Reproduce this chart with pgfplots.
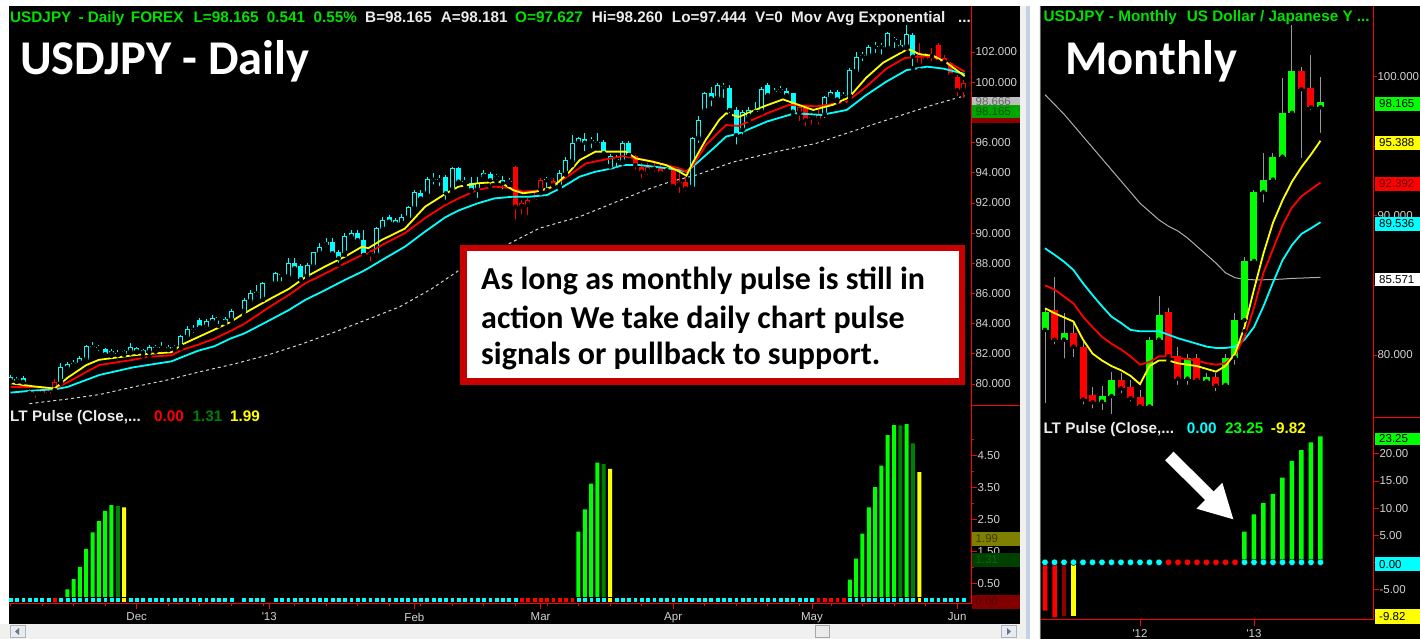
\documentclass[border=0pt]{standalone}
\usepackage{fontspec}
\setmainfont{Liberation Sans}
\newfontfamily\calfont{Carlito}
\usepackage{pgfplots}
\usepackage{pgfplotstable}
\pgfplotsset{compat=1.18}

\definecolor{cy}{RGB}{0,255,255}
\definecolor{rd}{RGB}{255,0,0}
\definecolor{yl}{RGB}{255,255,0}
\definecolor{gr}{RGB}{0,255,0}
\definecolor{dgr}{RGB}{0,128,0}
\definecolor{drd}{RGB}{140,0,0}
\definecolor{hdg}{RGB}{0,225,0}
\definecolor{hdw}{RGB}{235,235,235}
\definecolor{labc}{RGB}{210,210,210}
\definecolor{boxred}{RGB}{200,0,0}
\definecolor{dashc}{RGB}{215,215,215}
\definecolor{lgray}{RGB}{240,240,240}
\definecolor{wickg}{RGB}{150,150,150}
\definecolor{emag}{RGB}{175,175,175}
\definecolor{tgbg}{RGB}{0,165,0}
\definecolor{tgtx}{RGB}{0,85,0}
\definecolor{olbg}{RGB}{128,128,0}
\definecolor{oltx}{RGB}{60,60,0}
\definecolor{dgbg}{RGB}{0,64,0}
\definecolor{dgtx}{RGB}{0,110,0}
\definecolor{drbg}{RGB}{128,0,0}
\definecolor{drtx}{RGB}{90,0,0}
\definecolor{grbg}{RGB}{190,190,190}
\definecolor{grtx}{RGB}{100,100,100}
\definecolor{sbblue}{RGB}{195,210,228}
\definecolor{btn}{RGB}{228,236,245}

\pgfplotstableread{
i o h l c k d
0 80.44 80.60 80.15 80.26 0 0
1 80.35 80.49 80.13 80.22 0 0
2 80.38 80.53 80.09 80.15 0 0
3 79.55 79.69 79.20 79.42 1 0
4 79.47 79.60 78.94 79.38 1 0
5 79.53 79.69 79.20 79.38 1 0
6 79.45 79.60 79.12 79.36 1 0
7 79.53 80.30 79.38 80.15 1 1
8 80.15 81.37 80.04 81.10 0 0
9 81.04 81.48 80.93 81.30 0 0
10 81.30 81.59 81.04 81.37 0 0
11 81.37 81.86 81.26 81.70 0 0
12 81.59 82.58 81.55 82.52 0 0
13 82.45 82.80 82.25 82.50 0 0
14 82.38 82.58 82.03 82.40 0 0
15 82.30 82.36 81.92 81.97 0 0
16 81.97 82.30 81.86 82.19 0 0
17 82.08 82.25 81.90 81.97 0 0
18 82.00 82.25 81.92 82.16 0 2
19 82.10 82.70 82.03 82.43 0 0
20 82.36 82.47 82.08 82.19 0 0
21 82.03 82.34 81.81 82.25 0 0
22 82.08 82.58 81.81 82.43 0 0
23 82.36 82.58 82.14 82.38 0 0
24 82.40 82.78 82.25 82.42 0 0
25 82.47 82.58 82.25 82.32 0 0
26 82.40 82.58 82.25 82.42 0 0
27 82.47 83.25 82.36 83.18 0 0
28 83.09 83.84 83.03 83.62 0 0
29 83.58 83.91 83.25 83.60 0 0
30 84.24 84.35 83.69 83.76 0 0
31 83.76 84.29 83.69 84.18 0 0
32 84.09 84.57 84.02 84.40 0 0
33 84.35 84.46 83.84 84.37 0 0
34 84.31 84.46 84.02 84.13 0 0
35 84.24 84.95 84.20 84.86 0 0
37 84.80 85.68 84.57 85.57 0 0
38 85.46 86.23 85.35 86.05 0 0
39 86.00 86.56 85.68 86.02 0 0
40 85.60 86.78 85.57 86.67 0 0
42 86.67 87.44 86.45 87.33 0 0
43 87.22 87.38 86.67 87.24 0 0
44 87.11 88.33 87.11 88.04 0 0
45 88.04 88.33 87.44 87.67 0 0
46 87.82 87.95 86.89 86.94 0 0
47 87.11 88.00 87.00 87.89 0 0
48 87.78 88.77 87.67 88.73 0 0
49 88.66 89.32 88.55 89.10 0 0
50 89.21 89.65 89.10 89.43 0 0
51 89.39 89.65 88.55 88.66 0 0
52 88.77 88.88 87.89 88.33 0 0
53 88.66 89.98 88.55 89.83 0 0
54 89.72 90.20 89.54 90.03 0 0
55 89.98 90.20 89.32 89.54 0 0
56 89.54 90.20 88.55 88.55 0 0
57 88.66 88.88 88.00 88.60 1 0
58 88.55 90.38 88.50 90.32 0 0
59 90.25 91.09 90.16 90.87 0 0
60 91.04 91.20 90.54 90.76 0 0
61 90.87 90.98 90.38 90.65 0 0
62 90.65 91.27 90.54 91.09 0 0
63 90.98 91.80 90.87 91.71 0 0
64 91.64 92.86 91.53 92.75 0 0
65 92.64 92.86 92.08 92.30 0 0
66 92.59 93.74 92.52 93.56 0 0
67 93.54 94.00 93.08 93.58 0 0
68 93.54 93.85 92.97 93.50 0 0
69 93.70 93.85 92.08 92.64 0 0
70 92.86 94.40 92.75 94.29 0 0
71 94.29 94.40 93.30 93.41 0 0
72 93.38 93.74 93.19 93.42 0 0
73 93.30 93.74 92.75 92.86 0 0
74 92.86 93.74 92.19 93.34 0 0
75 93.74 94.18 93.63 93.96 0 0
76 93.92 94.07 93.08 93.50 0 0
77 93.72 93.92 93.41 93.76 0 0
78 93.52 93.78 92.75 93.30 0 0
79 93.40 93.63 93.19 93.43 0 0
80 94.36 94.45 90.76 91.75 1 0
81 91.75 92.19 91.09 91.97 1 1
82 91.86 92.30 91.04 92.19 1 1
83 92.25 92.86 91.93 92.19 1 1
84 92.86 93.63 92.64 93.52 1 1
85 93.50 93.74 92.86 93.54 0 1
86 93.47 93.63 93.12 93.19 1 1
87 93.08 94.18 92.97 94.00 0 1
88 93.96 95.07 93.85 94.84 0 1
89 94.73 96.50 94.51 95.95 0 1
90 95.95 96.39 95.84 96.28 0 0
91 96.24 96.66 95.29 95.99 0 0
92 96.08 96.39 95.50 96.12 0 0
93 95.94 96.66 95.62 95.97 0 0
94 96.06 96.17 95.18 95.29 0 0
95 94.40 95.24 94.07 95.10 0 2
96 94.82 95.18 94.18 94.86 0 0
97 94.73 96.10 94.62 95.99 0 0
98 95.99 96.10 94.84 95.18 0 0
99 95.11 95.18 94.07 94.51 1 0
100 94.36 94.62 93.52 94.07 1 0
101 94.07 94.62 93.74 94.40 1 0
102 94.27 94.62 93.92 94.31 1 0
103 94.36 94.51 93.85 94.00 1 0
104 94.16 94.36 93.85 94.20 1 0
105 94.18 94.29 93.08 93.12 1 0
106 93.19 93.96 92.52 93.41 1 0
107 93.41 93.74 92.64 92.97 1 0
108 93.03 96.35 92.97 96.28 0 0
109 96.28 97.76 95.84 97.49 0 0
110 98.11 99.37 98.05 99.31 0 0
111 99.31 99.70 98.27 98.93 0 0
112 98.93 99.92 98.86 99.81 0 0
113 99.68 99.92 98.82 99.72 0 0
114 99.59 99.81 97.83 98.16 0 0
115 98.16 98.38 95.73 96.50 0 0
116 96.83 98.16 96.39 98.05 0 0
117 97.71 98.33 97.49 98.16 0 0
118 98.03 98.71 97.83 98.07 0 0
119 98.05 99.70 97.94 99.53 0 0
120 99.81 99.92 98.93 99.15 0 0
121 99.35 99.59 99.15 99.39 0 0
122 99.46 99.75 99.15 99.50 0 0
123 99.44 99.59 99.04 99.15 0 0
124 99.26 99.31 97.83 98.05 0 0
125 97.94 98.42 97.27 98.33 1 0
126 98.27 98.42 96.94 97.49 1 0
127 97.65 97.94 97.05 97.69 1 0
128 97.49 98.16 97.05 97.83 1 1
129 97.83 99.09 97.49 99.00 0 1
130 99.04 99.48 98.93 99.37 0 1
131 99.37 99.48 98.71 98.86 0 1
132 99.07 99.37 98.60 99.11 0 1
133 99.04 100.92 98.82 100.81 0 0
134 100.70 102.02 100.59 101.69 0 0
135 101.72 102.02 101.25 101.76 0 0
136 101.74 102.47 101.58 102.35 0 0
137 102.33 102.69 101.80 102.37 0 0
138 102.33 102.62 101.69 102.37 0 0
139 102.24 103.35 102.02 103.24 0 0
140 102.78 103.02 102.13 102.82 0 0
141 102.24 102.80 102.13 102.47 0 0
142 102.35 103.79 102.24 103.19 0 0
143 103.13 103.24 100.92 101.69 0 0
144 101.14 102.58 100.81 101.91 1 2
145 101.60 101.91 101.25 101.50 1 0
146 101.72 102.24 101.25 101.76 1 0
147 102.47 102.58 101.14 101.36 1 0
148 101.58 101.80 101.14 101.36 1 0
149 101.25 101.36 100.37 100.48 1 0
150 100.37 100.48 98.93 99.48 1 0
151 99.48 100.15 98.82 99.92 1 0
}\dcand

\pgfplotstableread{
i o h l c k d
0 81.8 83.4 76.4 83.1 0 0
1 83.2 85.6 80.6 81.1 1 0
2 81.1 83.0 79.6 81.6 0 0
3 81.6 82.3 79.7 80.6 1 0
4 80.6 80.9 76.3 76.8 1 0
5 77.1 77.7 76.0 76.6 1 0
6 76.65 77.8 75.9 77.05 0 0
7 77.05 78.8 75.6 78.2 0 0
8 78.2 78.7 77.1 77.6 1 0
9 77.7 78.2 76.5 76.9 1 0
10 77.0 77.5 76.2 76.3 1 0
11 76.3 81.3 76.2 81.1 0 0
12 81.1 84.2 80.8 82.9 0 0
13 83.1 83.4 79.6 79.9 1 1
14 79.9 80.6 77.7 78.3 1 1
15 78.3 80.1 77.7 79.8 0 1
16 79.8 80.1 77.9 78.2 1 1
17 78.1 78.7 77.95 78.4 0 1
18 78.4 78.7 77.25 77.8 1 1
19 77.85 80.1 77.7 79.8 0 1
20 79.8 83.0 79.15 82.5 0 1
21 82.5 87.05 81.7 86.75 0 0
22 86.75 91.85 86.6 91.7 0 0
23 91.7 94.5 90.8 92.6 0 0
24 92.6 94.5 92.45 94.25 0 0
25 94.25 99.9 94.15 97.4 0 0
26 97.4 103.7 97.35 100.4 0 0
27 100.4 100.7 94.0 99.1 1 0
28 99.2 101.55 97.45 97.8 1 0
29 97.8 99.95 95.8 98.165 0 0
}\mcand

% candle helpers: #1 table, #2 class value, #3 colour, #4 width
\newcommand{\wick}[4]{%
\addplot[only marks, mark=none, error bars/.cd, y dir=plus, y explicit, error mark=none,
  error bar style={line width=#4, draw=#3}]
  table[x=i, y expr={\thisrow{k}==#2 ? \thisrow{l} : nan}, y error expr={\thisrow{h}-\thisrow{l}}] {#1};}
\newcommand{\cbody}[5]{%
\addplot[only marks, mark=none, error bars/.cd, y dir=plus, y explicit, error mark=none,
  error bar style={line width=#4, draw=#3}]
  table[x=i, y expr={\thisrow{k}==#2 ? min(\thisrow{o},\thisrow{c}) : nan}, y error expr={max(abs(\thisrow{c}-\thisrow{o}),#5)}] {#1};}
\newcommand{\chollow}[3]{%
\addplot[only marks, mark=none, error bars/.cd, y dir=plus, y explicit, error mark=none,
  error bar style={line width=#3, draw=black}]
  table[x=i, y expr={(\thisrow{k}==#2 && \thisrow{c}-\thisrow{o}>0.15) ? \thisrow{o}+0.07 : nan}, y error expr={\thisrow{c}-\thisrow{o}-0.14}] {#1};}

\newcommand{\tagb}[7]{\fill[#5] (#1,639-#3) rectangle (#2,639-#4);
  \node[anchor=west, inner sep=0pt, text=#6, font=\fontsize{11.5}{12}\selectfont] at ({#1+4},{639-(#3+#4)/2}) {#7};}

\pgfplotsset{
  base/.style={scale only axis, anchor=south west, axis line style={draw=none},
    tick align=outside, major tick length=4pt, minor tick length=4pt,
    tick style={red, line width=0.8pt},
    tick label style={font=\fontsize{11.5}{12}\selectfont, text=labc},
    yticklabel style={xshift=-3pt},
    clip=true, clip bounding box=upper bound,
    xtick pos=left, ytick pos=right, xticklabel pos=left, yticklabel pos=right}
}

\tikzset{hd/.style={anchor=base west, inner sep=0pt, font=\bfseries\fontsize{15.3}{16}\selectfont}}

\begin{document}
\begin{tikzpicture}
\useasboundingbox (0pt,0pt) rectangle (1420pt,639pt);
\fill[black] (0pt,0pt) rectangle (1420pt,639pt);

% ===================== DAILY PRICE =====================
\begin{axis}[base, at={(9pt,233pt)}, width=962pt, height=400pt,
  xmin=-0.238, xmax=152.2, ymin=78.542, ymax=105.05,
  xtick=\empty, ytick={80,82,...,102},
  yticklabels={80.000,82.000,84.000,86.000,88.000,90.000,92.000,94.000,96.000,{},100.000,102.000}]
\addplot[dashc, line width=1pt, dash pattern=on 3pt off 3pt] coordinates {
(3,78.7) (9,79.0) (14.1,79.3) (19.4,79.8) (24.7,80.25) (29.9,80.8) (35.2,81.3) (40.6,81.9)
(45.8,82.6) (51.1,83.4) (56.7,84.3) (61.7,85.12) (66.7,86.3) (71.3,87.6) (77.6,89.0) (83.8,90.32)
(90.2,91.09) (95.4,91.97) (100.7,92.86) (104.5,93.4) (108.7,93.85) (114.4,94.7) (121.4,95.4)
(127.7,95.95) (135.6,97.05) (146.2,98.5) (151.2,99.1)};
\wick{\dcand}{0}{cy}{1pt}
\wick{\dcand}{1}{rd}{1pt}
\cbody{\dcand}{0}{cy}{5pt}{0.07}
\cbody{\dcand}{1}{rd}{5pt}{0.07}
\chollow{\dcand}{0}{3pt}
\chollow{\dcand}{1}{3pt}
\addplot[cy, line width=1.8pt] coordinates {
(0,79.43) (3.5,79.56) (7,79.65) (9,79.8) (12,80.27) (14.1,80.6) (19.4,81.1) (21.8,81.26) (25.5,81.5)
(27.1,81.77) (29.7,82.2) (32.3,82.5) (34.8,83.0) (37.1,83.36) (40.5,84.1) (44.1,84.9) (46.7,85.57)
(49.9,86.23) (53,86.9) (55.7,87.44) (56.7,87.67) (58.8,88.2) (62.5,89.1) (65.7,90.1) (68.9,91.05)
(71,91.5) (74,91.97) (76.7,92.3) (79.6,92.41) (82.2,92.41) (85,92.52) (87.6,93.08) (90.2,93.74)
(92.7,94.07) (95.4,94.29) (97,94.51) (99.6,94.51) (102.8,94.36) (106,94.18) (107.1,94.07)
(108.7,94.62) (111.4,95.62) (113.4,96.4) (115.4,96.6) (119.9,97.4) (124.3,97.94) (128.5,97.83)
(132.5,98.16) (135.6,99.15) (138.8,100.04) (142,100.8) (145.2,101.03) (147.8,100.9) (151.2,100.55)};
\addplot[rd, line width=1.8pt] coordinates {
(0,79.8) (3.5,79.8) (7,79.7) (9,80.1) (12,80.8) (14.1,81.26) (19.4,81.6) (21.8,81.8) (25.5,81.9)
(27.1,82.25) (29.7,82.6) (32.3,83.0) (34.8,83.5) (37.1,84.0) (41.4,85.2) (44.1,85.9) (46.7,86.67)
(49.9,87.33) (53,88.0) (55.7,88.55) (56.7,88.66) (58.8,89.2) (62.5,90.0) (65.7,91.0) (68.9,91.86)
(71,92.3) (74,92.86) (76.7,93.08) (79.6,92.97) (81.2,92.75) (85,92.86) (88.6,93.85) (91.2,94.62)
(93.8,94.84) (97,95.1) (99.1,94.95) (101.8,94.73) (103.9,94.51) (106,94.29) (107.1,94.07)
(108.2,94.51) (110.2,95.84) (112.3,96.72) (113.4,97.16) (115.4,97.1) (119.9,97.94) (123.4,98.5)
(127.8,98.4) (132.5,98.7) (135.6,99.7) (138.8,100.9) (141.7,101.6) (143.6,101.7) (146.2,101.66)
(149.3,101.15) (151.2,100.7)};
\addplot[yl, line width=1.8pt] coordinates {
(0,80.05) (3.5,79.85) (7,79.7) (9,80.4) (12,81.25) (14,81.6) (19.4,81.9) (21.9,82.0) (25.5,82.1)
(27.1,82.6) (29.7,83.1) (32.3,83.6) (34.8,84.1) (37.1,84.7) (41.4,85.7) (44.1,86.3) (46.7,87.07)
(49.9,87.8) (53,88.44) (55.7,89.1) (56.7,89.0) (58.8,89.54) (62.5,90.3) (65.7,91.75) (68.9,92.6)
(71,93.08) (74,93.3) (77.5,93.4) (79.6,92.86) (81.2,92.64) (83.3,92.75) (86,93.08) (88.6,94.07)
(90.2,94.84) (92.7,95.4) (95.4,95.4) (97.5,95.4) (99.1,94.95) (101.8,94.73) (103.9,94.5) (106,94.07)
(107.1,93.8) (108.2,94.73) (110.2,96.2) (112.3,97.5) (113.4,97.94) (115.4,97.7) (119.4,98.4)
(122.4,98.86) (127.2,98.16) (130.3,98.5) (132.9,99.0) (135.6,100.3) (138.3,101.3) (142.2,102.2)
(144.1,101.85) (146.2,101.75) (148.3,101.3) (151.2,100.4)};
\end{axis}

% ===================== DAILY PULSE =====================
\begin{axis}[base, at={(9pt,35.7pt)}, width=962pt, height=197.3pt,
  xmin=-0.238, xmax=152.2, ymin=-0.119, ymax=6.047,
  xtick={20,41,64,84,105,127,150},
  xticklabels={Dec,\textquotesingle13,Feb,Mar,Apr,May,Jun},
  minor xtick={0,5,...,150},
  major tick length=6pt, minor tick length=3pt,
  ytick={0.5,1.5,2.5,3.5,4.5}, yticklabels={0.50,1.50,2.50,3.50,4.50},
  minor ytick={1,2,3,4,5}]
\addplot[ybar, bar width=4pt, bar shift=0pt, fill=gr, draw=none] coordinates {
(9,0.32) (10,0.64) (11,1.02) (12,1.58) (13,2.1) (14,2.45) (15,2.77) (16,2.95)
(90,2.12) (91,2.82) (92,3.62) (93,4.28)
(133,0.62) (134,1.28) (135,2.06) (136,2.88) (137,3.51) (138,4.18) (139,5.14) (140,5.45) (142,5.48)};
\addplot[ybar, bar width=4pt, bar shift=0pt, fill=dgr, draw=none] coordinates {
(17,2.92) (94,4.24) (141,5.44) (143,4.88)};
\addplot[ybar, bar width=4pt, bar shift=0pt, fill=yl, draw=none] coordinates {
(18,2.88) (95,4.08) (144,3.98)};
\addplot[only marks, mark=square*, mark size=2.4pt, mark options={fill=cy, draw=none}]
  table[x=i, y expr={\thisrow{d}==0 ? 0 : nan}] {\dcand};
\addplot[only marks, mark=square*, mark size=2.4pt, mark options={fill=rd, draw=none}]
  table[x=i, y expr={\thisrow{d}==1 ? 0 : nan}] {\dcand};
\addplot[only marks, mark=square*, mark size=2.4pt, mark options={fill=yl, draw=none}]
  table[x=i, y expr={\thisrow{d}==2 ? 0 : nan}] {\dcand};
\end{axis}

% ===================== MONTHLY PRICE =====================
\begin{axis}[base, at={(1041pt,221pt)}, width=332pt, height=412pt,
  xmin=-0.42, xmax=34.53, ymin=75.47, ymax=105.07,
  xtick=\empty, ytick={80,85,90,95,100},
  yticklabels={80.000,{},90.000,{},100.000}]
\addplot[emag, line width=1pt] coordinates {
(0,98.7) (1,98.0) (2,97.3) (3,96.5) (4,95.7) (5,94.9) (6,94.1) (7,93.3) (8,92.5) (9,91.7)
(10,90.9) (11,90.3) (12,89.7) (13,89.25) (14,88.9) (15,88.4) (16,87.8) (17,87.2) (18,86.6)
(19,85.9) (20,85.55) (21,85.42) (22,85.4) (23,85.4) (24,85.42) (25,85.45) (26,85.5) (27,85.52)
(28,85.55) (29,85.571)};
\wick{\mcand}{0}{wickg}{1pt}
\wick{\mcand}{1}{wickg}{1pt}
\cbody{\mcand}{0}{gr}{7pt}{0.08}
\cbody{\mcand}{1}{rd}{7pt}{0.08}
\addplot[cy, line width=1.8pt] coordinates {
(0,87.66) (1,87.2) (2,86.7) (3,86.1) (4,85.15) (5,84.3) (6,83.5) (7,82.75) (8,82.3) (9,81.8)
(10,81.7) (11,81.7) (12,81.7) (13,81.45) (14,81.2) (15,81.0) (16,80.8) (17,80.6) (18,80.5)
(19,80.5) (20,80.6) (21,81.1) (22,82.0) (23,83.5) (24,85.2) (25,86.8) (26,87.9) (27,88.7)
(28,89.1) (29,89.536)};
\addplot[rd, line width=1.8pt] coordinates {
(0,85.0) (1,84.7) (2,84.2) (3,83.7) (4,82.75) (5,82.0) (6,81.3) (7,80.8) (8,80.4) (9,79.9)
(10,79.3) (11,79.5) (12,79.9) (13,79.9) (14,79.8) (15,79.7) (16,79.6) (17,79.4) (18,79.3)
(19,79.4) (20,80.0) (21,81.3) (22,83.4) (23,85.9) (24,87.6) (25,89.3) (26,90.6) (27,91.4)
(28,91.9) (29,92.392)};
\addplot[yl, line width=1.8pt] coordinates {
(0,83.35) (1,83.0) (2,82.7) (3,82.4) (4,81.1) (5,80.1) (6,79.6) (7,79.2) (8,78.9) (9,78.5)
(10,77.9) (11,79.2) (12,79.6) (13,79.6) (14,79.4) (15,79.3) (16,79.2) (17,79.0) (18,78.8)
(19,79.2) (20,80.1) (21,82.0) (22,84.7) (23,87.3) (24,89.5) (25,91.1) (26,92.45) (27,93.5)
(28,94.4) (29,95.388)};
\end{axis}

% ===================== MONTHLY PULSE =====================
\begin{axis}[base, at={(1041pt,19pt)}, width=332pt, height=202pt,
  xmin=-0.42, xmax=34.53, ymin=-10.65, ymax=26.62,
  xtick={10,22}, xticklabels={\textquotesingle12,\textquotesingle13},
  major tick length=6pt,
  ytick={-5,0,5,10,15,20}, yticklabels={-5.00,{},5.00,10.00,15.00,20.00}]
\addplot[ybar, bar width=4.5pt, bar shift=0pt, fill=rd, draw=none] coordinates {(0,-8.9) (1,-10.1)};
\addplot[ybar, bar width=4.5pt, bar shift=0pt, fill=drd, draw=none] coordinates {(2,-10.0)};
\addplot[ybar, bar width=4.5pt, bar shift=0pt, fill=yl, draw=none] coordinates {(3,-9.82)};
\addplot[ybar, bar width=4.5pt, bar shift=0pt, fill=gr, draw=none] coordinates {
(21,5.66) (22,8.86) (23,10.9) (24,12.6) (25,15.6) (26,18.7) (27,20.7) (28,22.1) (29,23.25)};
\addplot[only marks, mark=*, mark size=3.3pt, mark options={fill=cy, draw=none}]
  table[x=i, y expr={\thisrow{d}==0 ? 0 : nan}] {\mcand};
\addplot[only marks, mark=*, mark size=3.3pt, mark options={fill=rd, draw=none}]
  table[x=i, y expr={\thisrow{d}==1 ? 0 : nan}] {\mcand};
\end{axis}

\begin{scope}[x=1pt,y=1pt]
% axis lines
\draw[rd, line width=1pt] (971,639-6) -- (971,639-603.3) -- (9,639-603.3);
\draw[rd, line width=1pt] (971,639-406) -- (1020,639-406);
\draw[rd, line width=1pt] (1373,639-6) -- (1373,639-620) -- (1041,639-620);
\draw[rd, line width=1pt] (1373,639-418) -- (1420,639-418);

% value tags
\tagb{971.5}{1020}{97}{106}{grbg}{grtx}{98.666}
\fill[drd] (971.5,639-113) rectangle (1020,639-123);
\tagb{971.5}{1020}{105}{118.3}{tgbg}{tgtx}{98.165}
\tagb{971.5}{1020}{531.7}{545.7}{olbg}{oltx}{1.99}
\tagb{971.5}{1020}{553}{566.7}{dgbg}{dgtx}{1.31}
\tagb{971.5}{1020}{595}{609}{drbg}{drtx}{0.00}
\tagb{1375}{1420}{97}{111}{gr}{black}{98.165}
\tagb{1375}{1420}{136}{150}{yl}{black}{95.388}
\tagb{1375}{1420}{177.3}{190.7}{rd}{drtx}{92.392}
\tagb{1375}{1420}{216.7}{230.7}{cy}{black}{89.536}
\tagb{1375}{1420}{272.7}{286}{white}{black}{85.571}
\tagb{1375}{1420}{432.7}{445.3}{gr}{black}{23.25}
\tagb{1375}{1420}{557.3}{571}{cy}{black}{0.00}
\tagb{1375}{1420}{609}{624}{yl}{black}{-9.82}

% headers
\node[hd, text=hdg] at (10,616) {USDJPY};
\node[hd, text=hdg] at (78.3,616) {- Daily};
\node[hd, text=hdg] at (130.7,616) {FOREX};
\node[hd, text=hdg] at (193.3,616) {L=98.165};
\node[hd, text=hdg] at (266.7,616) {0.541};
\node[hd, text=hdg] at (313.3,616) {0.55\%};
\node[hd, text=hdw] at (365,616) {B=98.165};
\node[hd, text=hdw] at (440.7,616) {A=98.181};
\node[hd, text=hdg] at (515,616) {O=97.627};
\node[hd, text=hdw] at (591.7,616) {Hi=98.260};
\node[hd, text=hdw] at (671.7,616) {Lo=97.444};
\node[hd, text=hdw] at (755,616) {V=0};
\node[hd, text=hdw] at (791,616) {Mov Avg Exponential};
\node[hd, text=hdw] at (958,616) {...};
\node[hd, text=hdg] at (1043.3,617) {USDJPY - Monthly};
\node[hd, text=hdg] at (1186.7,617) {US Dollar / Japanese Y ...};

\node[hd, text=hdw] at (10,217.3) {LT Pulse (Close,...};
\node[hd, text=rd] at (154,217.3) {0.00};
\node[hd, text=dgr] at (192.3,217.3) {1.31};
\node[hd, text=yl] at (230,217.3) {1.99};
\node[hd, text=hdw] at (1043.3,205.7) {LT Pulse (Close,...};
\node[hd, text=cy] at (1186.7,205.7) {0.00};
\node[hd, text=gr] at (1225,205.7) {23.25};
\node[hd, text=yl] at (1270.7,205.7) {-9.82};

% big titles
\node[anchor=base west, inner sep=0pt, text=white, font=\calfont\bfseries\fontsize{48.5}{50}\selectfont] at (20,564) {USDJPY - Daily};
\node[anchor=base west, inner sep=0pt, text=white, font=\calfont\bfseries\fontsize{48.5}{50}\selectfont] at (1065,564) {Monthly};

% comment box
\draw[boxred, line width=6.5pt, fill=white] (463.25,639-248.25) rectangle (961.75,639-381.75);
\node[anchor=base west, inner sep=0pt, text=black, font=\calfont\bfseries\fontsize{32}{36}\selectfont] at (481,349) {As long as monthly pulse is still in};
\node[anchor=base west, inner sep=0pt, text=black, font=\calfont\bfseries\fontsize{32}{36}\selectfont] at (481,310.7) {action We take daily chart pulse};
\node[anchor=base west, inner sep=0pt, text=black, font=\calfont\bfseries\fontsize{32}{36}\selectfont] at (481,274) {signals or pullback to support.};

% white arrow
\fill[white] (1165.1,639-460.3) -- (1205.2,639-500.0) -- (1196.5,639-508.7) -- (1233.3,639-519.3)
  -- (1222.3,639-482.7) -- (1213.6,639-491.4) -- (1173.5,639-451.7) -- cycle;

% window frame
\fill[white] (0,633) rectangle (1420,639);
\fill[white] (0,15) rectangle (9,633);
\fill[lgray] (1020,0) rectangle (1041,633);
\fill[sbblue] (1026,0) rectangle (1030,633);
\fill[white] (1030,0) rectangle (1039,633);
\fill[black!60] (1040,0) rectangle (1041,633);
\fill[lgray] (0,0) rectangle (1020,15);
\draw[black!30, fill=btn] (10,1.5) rectangle (25,13.5);
\fill[black!55] (15,7.5) -- (19,11) -- (19,4) -- cycle;
\draw[black!35, fill=black!8] (815,1.5) rectangle (829,13.5);
\draw[black!30, fill=btn] (1001,1.5) rectangle (1016,13.5);
\fill[black!55] (1011,7.5) -- (1007,11) -- (1007,4) -- cycle;
\end{scope}
\end{tikzpicture}
\end{document}
